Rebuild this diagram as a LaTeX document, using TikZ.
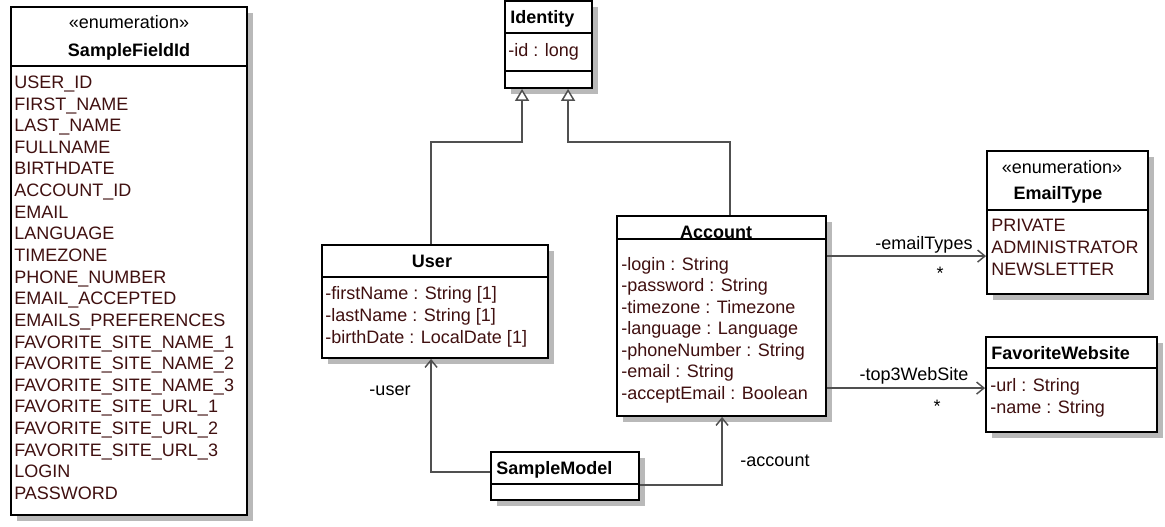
\documentclass[tikz,border=0pt]{standalone}
\usepackage{fontspec}
\setmainfont{Liberation Sans}
\usetikzlibrary{arrows.meta,fit,calc}
\definecolor{attrc}{RGB}{64,16,16}
\definecolor{connc}{RGB}{80,80,80}
\definecolor{shadowc}{RGB}{185,185,185}
\newcommand\umlbox[6]{%
  \fill[shadowc] (#2+6,#3+6) rectangle (#4+6,#5+6);
  \node[umlrect, fit={(#2,#3) (#4,#5)}] (#1) {};
  \draw[sepline] (#2,#6) -- (#4,#6);
}
\begin{document}
\begin{tikzpicture}[x=0.75pt,y=-0.75pt,
  every node/.style={font=\fontsize{13.5}{15}\selectfont, inner sep=0pt, text height=9.7pt, text depth=0pt},
  umlrect/.style={draw=black, line width=1.4pt, fill=white, rectangle, inner sep=0pt},
  sepline/.style={draw=black, line width=1.4pt},
  attr/.style={anchor=west, text=attrc},
  cname/.style={font=\fontsize{13.5}{15}\selectfont\bfseries},
  lbl/.style={text=black},
  conn/.style={draw=connc, line width=1.1pt},
  gen/.style={conn, -{Triangle[open, length=9pt, width=10.5pt, fill=white]}},
  assoc/.style={conn, -{Straight Barb[length=5.5pt, width=9pt]}}
]
\useasboundingbox (0,0) rectangle (1165,527);

% SampleFieldId
\umlbox{sfi}{11}{7}{247}{515}{66}
\node (sfist) at (129,22) {«enumeration»};
\node[cname] (sfit) at (129,50) {SampleFieldId};
\foreach \t [count=\i from 0] in {USER\_ID,FIRST\_NAME,LAST\_NAME,FULLNAME,BIRTHDATE,ACCOUNT\_ID,EMAIL,LANGUAGE,TIMEZONE,PHONE\_NUMBER,EMAIL\_ACCEPTED,EMAILS\_PREFERENCES,FAVORITE\_SITE\_NAME\_1,FAVORITE\_SITE\_NAME\_2,FAVORITE\_SITE\_NAME\_3,FAVORITE\_SITE\_URL\_1,FAVORITE\_SITE\_URL\_2,FAVORITE\_SITE\_URL\_3,LOGIN,PASSWORD}
  \node[attr] (sfi\i) at (14,{82+21.63*\i}) {\t};

% Identity
\umlbox{identity}{505}{1}{592}{88}{33}
\draw[sepline] (505,71) -- (592,71);
\node[cname, anchor=west] (identityt) at (510,17) {Identity};
\node[attr] (identitya) at (508,50) {-id : long};

% User
\umlbox{user}{322}{245}{548}{358}{277}
\node[cname] (usert) at (432,261) {User};
\node[attr] (usera1) at (325,293) {-firstName : String [1]};
\node[attr] (usera2) at (325,315) {-lastName : String [1]};
\node[attr] (usera3) at (325,337) {-birthDate : LocalDate [1]};

% Account
\umlbox{account}{617}{216}{826}{416}{239}
\node[cname] (accountt) at (716,232) {Account};
\node[attr] (acc1) at (621,264) {-login : String};
\node[attr] (acc2) at (621,285.5) {-password : String};
\node[attr] (acc3) at (621,307) {-timezone : Timezone};
\node[attr] (acc4) at (621,328.5) {-language : Language};
\node[attr] (acc5) at (621,350) {-phoneNumber : String};
\node[attr] (acc6) at (621,371.5) {-email : String};
\node[attr] (acc7) at (621,393) {-acceptEmail : Boolean};

% EmailType
\umlbox{emailtype}{987}{151}{1148}{294}{210}
\node (etst) at (1062,167) {«enumeration»};
\node[cname] (ett) at (1058,193) {EmailType};
\node[attr] (et1) at (991,225) {PRIVATE};
\node[attr] (et2) at (991,247) {ADMINISTRATOR};
\node[attr] (et3) at (991,269) {NEWSLETTER};

% FavoriteWebsite
\umlbox{fw}{986}{337}{1157}{432}{368}
\node[cname, anchor=west] (fwt) at (991,353) {FavoriteWebsite};
\node[attr] (fw1) at (990,385) {-url : String};
\node[attr] (fw2) at (990,407) {-name : String};

% SampleModel
\umlbox{sm}{491}{452}{639}{500}{484}
\node[cname, anchor=west] (smt) at (496,468) {SampleModel};

% Generalizations
\draw[gen] ([xshift=82.5pt]user.north west) -- ++(0,-102) -| ([xshift=13.5pt]identity.south west);
\draw[gen] ([xshift=85.5pt]account.north west) -- ++(0,-73) -| ([xshift=48pt]identity.south west);

% Associations
\draw[assoc] ([yshift=-15.75pt]sm.north west) -| ([xshift=82.5pt]user.south west);
\node[lbl] (luser) at (390,389) {-user};
\draw[assoc] ([yshift=-25.5pt]sm.north east) -| ([xshift=79.5pt]account.south west);
\node[lbl] (lacc) at (775,460) {-account};

\draw[assoc] ([yshift=-30.75pt]account.north east) coordinate (a1) -- (a1 -| emailtype.west);
\node[lbl] (let) at (924,243) {-emailTypes};
\node[lbl] (let2) at (940,273) {*};

\draw[assoc] ([yshift=-129.75pt]account.north east) coordinate (a2) -- (a2 -| fw.west);
\node[lbl] (lfw) at (914,374) {-top3WebSite};
\node[lbl] (lfw2) at (937,406) {*};
\end{tikzpicture}
\end{document}
